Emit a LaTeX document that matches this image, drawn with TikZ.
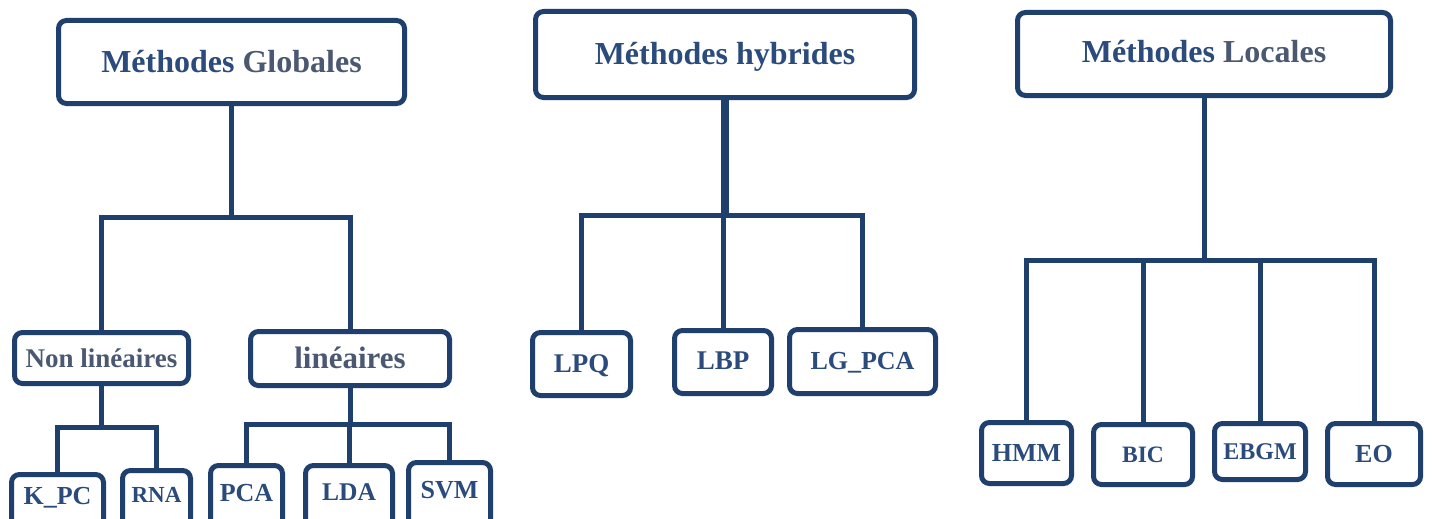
\documentclass[tikz,border=0pt]{standalone}
\usepackage{fontspec}
\setmainfont{Liberation Serif}
\definecolor{navy}{HTML}{1F3F6D}
\definecolor{txtblue}{HTML}{2A4B7C}
\definecolor{txtgray}{HTML}{4B5871}
\begin{document}
\begin{tikzpicture}[x=1pt,y=-1pt,
  box/.style={draw=navy, line width=5pt, rounded corners=8pt, anchor=north,
    inner sep=0pt, outer sep=0pt, align=center, font=\bfseries, text=txtblue},
  conn/.style={draw=navy, line width=5pt, line join=miter},
  trunk/.style={conn, line width=8pt},
  fs/.style={font=\bfseries\fontsize{#1}{#1}\selectfont}]
\useasboundingbox (0,0) rectangle (1434,519);
\clip (0,0) rectangle (1434,519);
\fill[white] (0,0) rectangle (1434,519);

% --- Méthodes Globales ---
\node[box, fs=32, minimum width=346pt, text height=51.5pt, text depth=31.5pt]
  (glob) at (231.5,20.5) {Méthodes \textcolor{txtgray}{Globales}};
\node[box, fs=27, text=txtgray, minimum width=174pt, text height=34.5pt, text depth=16.5pt]
  (nl) at (101.5,332.5) {Non linéaires};
\node[box, fs=31, text=txtgray, minimum width=199pt, text height=36.5pt, text depth=17.5pt]
  (lin) at (350,331.5) {linéaires};
\node[box, fs=26, minimum width=92pt, text height=29.5pt, text depth=36pt]
  (kpc) at (57.5,474.5) {K\_PC};
\node[box, fs=23, minimum width=68pt, text height=31.5pt, text depth=38pt]
  (rna) at (156.5,470.5) {RNA};
\node[box, fs=26, minimum width=72pt, text height=35.5pt, text depth=39pt]
  (pca) at (246.5,465.5) {PCA};
\node[box, fs=25.5, minimum width=87pt, text height=34.5pt, text depth=40pt]
  (lda) at (349,465.5) {LDA};
\node[box, fs=26, minimum width=82pt, text height=35.5pt, text depth=42pt]
  (svm) at (449.5,462.5) {SVM};

\coordinate (gj) at (231.5,217);
\coordinate (nlj) at (101.5,427);
\coordinate (linj) at (350,424);
\draw[conn] (glob.south) -- (gj);
\draw[conn] (nl.north) -- (nl.north |- gj) -- (lin.north |- gj) -- (lin.north);
\draw[conn] (nl.south) -- (nlj);
\draw[conn] (kpc.north) -- (kpc.north |- nlj) -- (rna.north |- nlj) -- (rna.north);
\draw[conn] (lin.south) -- (linj);
\draw[conn] (pca.north) -- (pca.north |- linj) -- (svm.north |- linj) -- (svm.north);
\draw[conn] (lda.north) -- (lda.north |- linj);

% --- Méthodes hybrides ---
\node[box, fs=32, minimum width=379pt, text height=52.5pt, text depth=33.5pt]
  (hyb) at (725,11.5) {Méthodes hybrides};
\node[box, fs=27, minimum width=98pt, text height=39.5pt, text depth=23.5pt]
  (lpq) at (581.5,332.5) {LPQ};
\node[box, fs=27, minimum width=97pt, text height=38.5pt, text depth=24.5pt]
  (lbp) at (723,330.5) {LBP};
\node[box, fs=26, minimum width=146pt, text height=39.5pt, text depth=24.5pt]
  (lgpca) at (862.5,329.5) {LG\_PCA};

\coordinate (hj) at (725,215);
\draw[trunk] (hyb.south) -- (hj);
\draw[conn] (lpq.north) -- (lpq.north |- hj) -- (lgpca.north |- hj) -- (lgpca.north);
\draw[conn] (lbp.north) -- (lbp.north |- hj);

% --- Méthodes Locales ---
\node[box, fs=32, minimum width=373pt, text height=50.5pt, text depth=32.5pt]
  (loc) at (1204,12.5) {Méthodes \textcolor{txtgray}{Locales}};
\node[box, fs=26, minimum width=90pt, text height=38.5pt, text depth=22.5pt]
  (hmm) at (1026.5,422.5) {HMM};
\node[box, fs=23.5, minimum width=99pt, text height=37.5pt, text depth=22.5pt]
  (bic) at (1143,424.5) {BIC};
\node[box, fs=24, minimum width=91pt, text height=35.5pt, text depth=20.5pt]
  (ebgm) at (1260,423.5) {EBGM};
\node[box, fs=26, minimum width=93pt, text height=38.5pt, text depth=22.5pt]
  (eo) at (1374,423.5) {EO};

\coordinate (lj) at (1204,260);
\draw[conn] (loc.south) -- (lj);
\draw[conn] (hmm.north) -- (hmm.north |- lj) -- (eo.north |- lj) -- (eo.north);
\draw[conn] (bic.north) -- (bic.north |- lj);
\draw[conn] (ebgm.north) -- (ebgm.north |- lj);
\end{tikzpicture}
\end{document}
